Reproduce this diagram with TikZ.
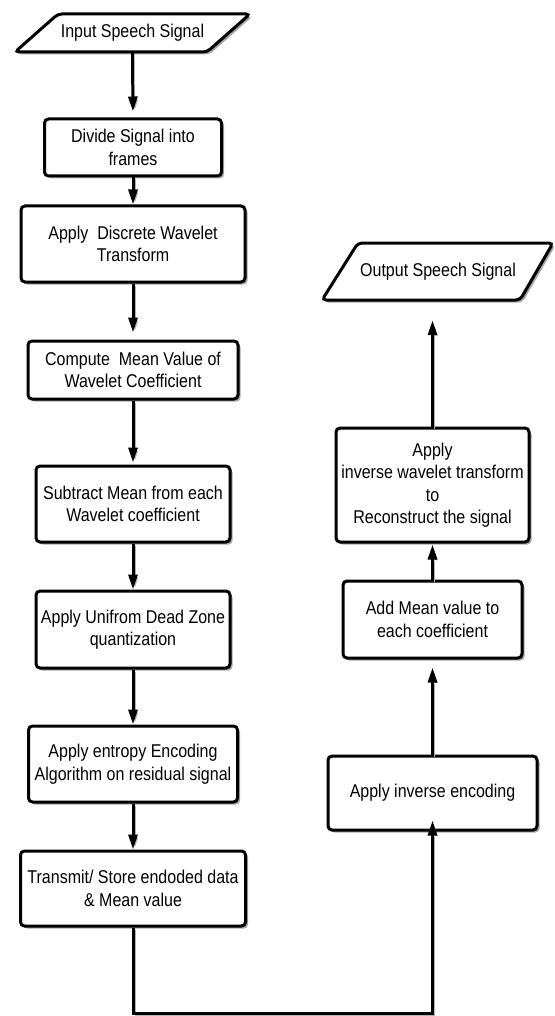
\documentclass[tikz,border=0pt]{standalone}
\usepackage{fontspec}
\setmainfont{Liberation Sans}[FakeStretch=0.865]
\usetikzlibrary{arrows.meta,shadows,calc}
\begin{document}
\begin{tikzpicture}[x=1pt,y=-1pt,
  txt/.style={font=\fontsize{18.5}{22.5}\selectfont, align=center, inner sep=0pt},
  box/.style={txt, draw, line width=3pt, rounded corners=4pt, fill=white,
    drop shadow={shadow xshift=2.5pt, shadow yshift=-2.5pt, fill=black!35, opacity=1}},
  para/.style={draw, line width=3pt, rounded corners=4pt, fill=white,
    drop shadow={shadow xshift=2.5pt, shadow yshift=-2.5pt, fill=black!35, opacity=1}},
  conn/.style={line width=3pt, -{Triangle[length=15pt,width=9pt]},
    preaction={draw=black!30, transform canvas={shift={(2pt,-2pt)}}}},
  line/.style={line width=3pt,
    preaction={draw=black!30, transform canvas={shift={(2pt,-2pt)}}}}
]
\useasboundingbox (0,0) rectangle (554,1016);

% input / output parallelograms
\draw[para] (58,14) -- (250,14) -- (207,52) -- (15,52) -- cycle;
\node[txt, minimum width=150pt, minimum height=38pt] (inp) at (132.5,33) {Input Speech Signal};
\draw[para] (358,243) -- (553,243) -- (520,300) -- (322,300) -- cycle;
\node[txt, minimum width=150pt, minimum height=57pt] (out) at (438,271.5) {Output Speech Signal};

% left column
\node[box, minimum width=177pt, minimum height=57pt] (d1) at (133,147.5) {Divide Signal into\\frames};
\node[box, minimum width=224pt, minimum height=76pt] (d2) at (133,244) {Apply~ Discrete Wavelet\\Transform};
\node[box, minimum width=210pt, minimum height=58pt] (d3) at (133,370) {Compute~ Mean Value of\\Wavelet Coefficient};
\node[box, minimum width=194pt, minimum height=76pt] (d4) at (133,504) {Subtract Mean from each\\Wavelet coefficient};
\node[box, minimum width=194pt, minimum height=77pt] (d5) at (133,629.5) {Apply Unifrom Dead Zone\\quantization};
\node[box, minimum width=209pt, minimum height=76pt] (d6) at (133,764) {Apply entropy Encoding\\Algorithm on residual signal};
\node[box, minimum width=225pt, minimum height=75pt] (d7) at (133,888.5) {Transmit/ Store endoded data\\\& Mean value};

% right column
\node[box, minimum width=209pt, minimum height=74pt] (enc) at (432.5,793) {Apply inverse encoding};
\node[box, minimum width=179pt, minimum height=77pt] (add) at (432.5,619.5) {Add Mean value to\\each coefficient};
\node[box, minimum width=193pt, minimum height=114pt] (inv) at (432.5,485) {Apply\\inverse wavelet transform\\to\\Reconstruct the signal};

\coordinate (bot) at (133,1013);

% connectors
\draw[conn, shorten >=6pt] (inp.south) -- (d1.north);
\draw[conn] (d1.south) -- (d2.north);
\draw[conn, shorten >=7pt] (d2.south) -- (d3.north);
\draw[conn, shorten >=2pt] (d3.south) -- (d4.north);
\draw[conn] (d4.south) -- (d5.north);
\draw[conn] (d5.south) -- (d6.north);
\draw[conn] (d6.south) -- (d7.north);
\draw[conn] (d7.south) -- (bot) -| ([yshift=11pt]enc.south);
\draw[conn, shorten >=8pt] (enc.north) -- (add.south);
\draw[conn, shorten >=1pt] (add.north) -- (inv.south);
\draw[conn, shorten >=20pt] (inv.north) -- (inv.north |- out.south);
\end{tikzpicture}
\end{document}
